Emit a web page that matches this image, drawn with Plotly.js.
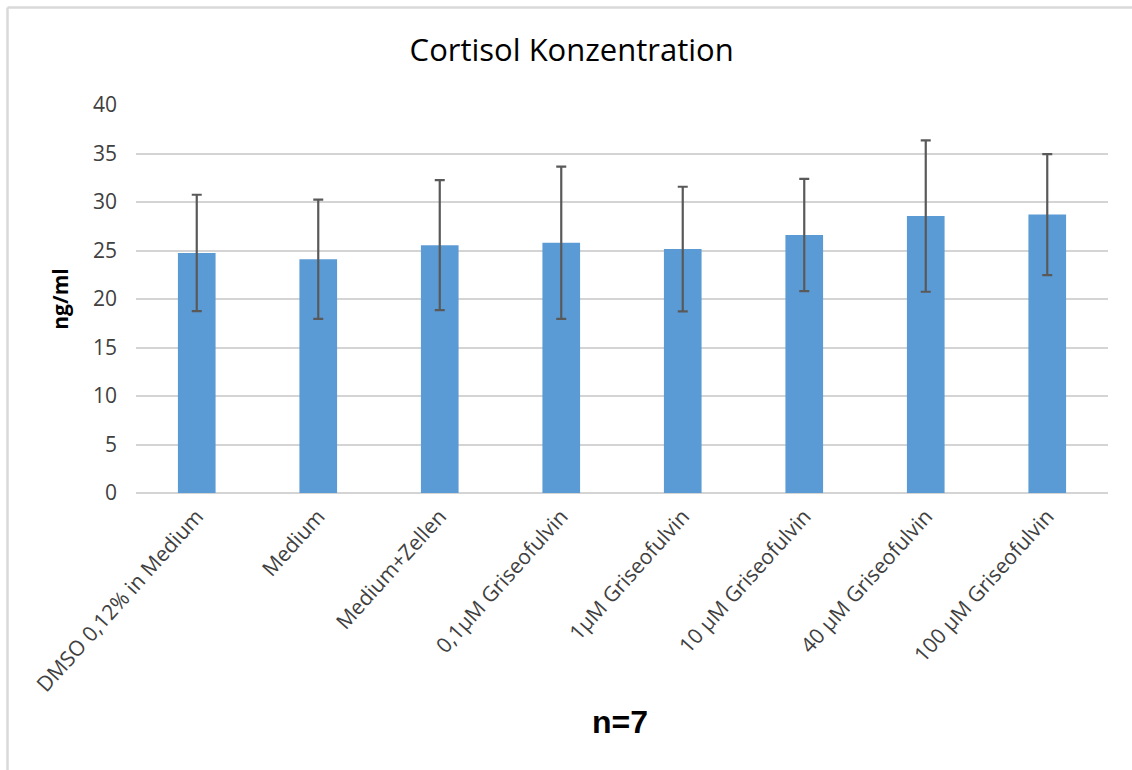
<!DOCTYPE html>
<html>
<head>
<meta charset="utf-8">
<script src="https://cdn.plot.ly/plotly-3.0.1.min.js"></script>
<style>
html,body{margin:0;padding:0;background:#fff;}
#chart{width:1132px;height:770px;}
</style>
</head>
<body>
<div id="chart"></div>
<script>
var categories = ["DMSO 0,12% in Medium", "Medium", "Medium+Zellen", "0,1µM Griseofulvin", "1µM Griseofulvin", "10 µM Griseofulvin", "40 µM Griseofulvin", "100 µM Griseofulvin"];
var means = [24.75, 24.1, 25.55, 25.8, 25.15, 26.6, 28.55, 28.7];
var errors = [6.0, 6.15, 6.7, 7.85, 6.42, 5.78, 7.8, 6.23];
var yTicks = [0, 5, 10, 15, 20, 25, 30, 35, 40];

var ml = 136, mr = 24, mt = 105, mb = 277;
var pw = 1132 - ml - mr, ph = 770 - mt - mb;
function px(x){ return (x - ml) / pw; }
function py(y){ return (770 - mb - y) / ph; }

var trace = {
  type: 'bar',
  x: categories,
  y: means,
  marker: {color: '#5b9bd5', line: {width: 0}},
  error_y: {type: 'data', array: errors, visible: true, color: '#595959', thickness: 2.2, width: 5},
  hoverinfo: 'x+y'
};

var layout = {
  width: 1132, height: 770,
  margin: {l: ml, r: mr, t: mt, b: mb},
  paper_bgcolor: '#ffffff', plot_bgcolor: '#ffffff',
  font: {family: 'Open Sans, Liberation Sans, sans-serif', color: '#404040'},
  title: {text: 'Cortisol Konzentration', x: 0.505, xref: 'container', xanchor: 'center', y: 1 - 50 / 770, yref: 'container', yanchor: 'middle', font: {size: 31, color: '#000000', family: 'Open Sans, sans-serif'}},
  bargap: 0.69,
  showlegend: false,
  xaxis: {
    type: 'category',
    tickangle: -48,
    tickfont: {size: 21, color: '#404040'},
    ticklabelstandoff: 6,
    showgrid: false, zeroline: false, showline: false,
    ticks: ''
  },
  yaxis: {
    range: [0, 40],
    tickvals: yTicks,
    ticktext: yTicks.map(String),
    tickfont: {size: 21, color: '#404040'},
    ticklabelstandoff: 18,
    showgrid: true, gridcolor: '#d4d4d4', gridwidth: 2,
    zeroline: true, zerolinecolor: '#d4d4d4', zerolinewidth: 2,
    showline: false, ticks: '',
    title: {text: '<b>ng/ml</b>', font: {size: 21, color: '#000000'}, standoff: 18}
  },
  annotations: [{
    text: '<b>n=7</b>', xref: 'paper', yref: 'paper', x: px(620), y: py(722),
    xanchor: 'center', yanchor: 'middle', showarrow: false,
    font: {size: 32, color: '#000000', family: 'Liberation Sans Narrow, Arial Narrow, Liberation Sans, sans-serif'}
  }],
  shapes: [
    {type: 'line', xref: 'paper', yref: 'paper', x0: px(7.5), x1: px(1140), y0: py(7.5), y1: py(7.5), line: {color: '#d9d9d9', width: 2.5}},
    {type: 'line', xref: 'paper', yref: 'paper', x0: px(7.5), x1: px(7.5), y0: py(7.5), y1: py(780), line: {color: '#d9d9d9', width: 2.5}}
  ]
};

Plotly.newPlot('chart', [trace], layout, {displayModeBar: false, staticPlot: true});
</script>
</body>
</html>
